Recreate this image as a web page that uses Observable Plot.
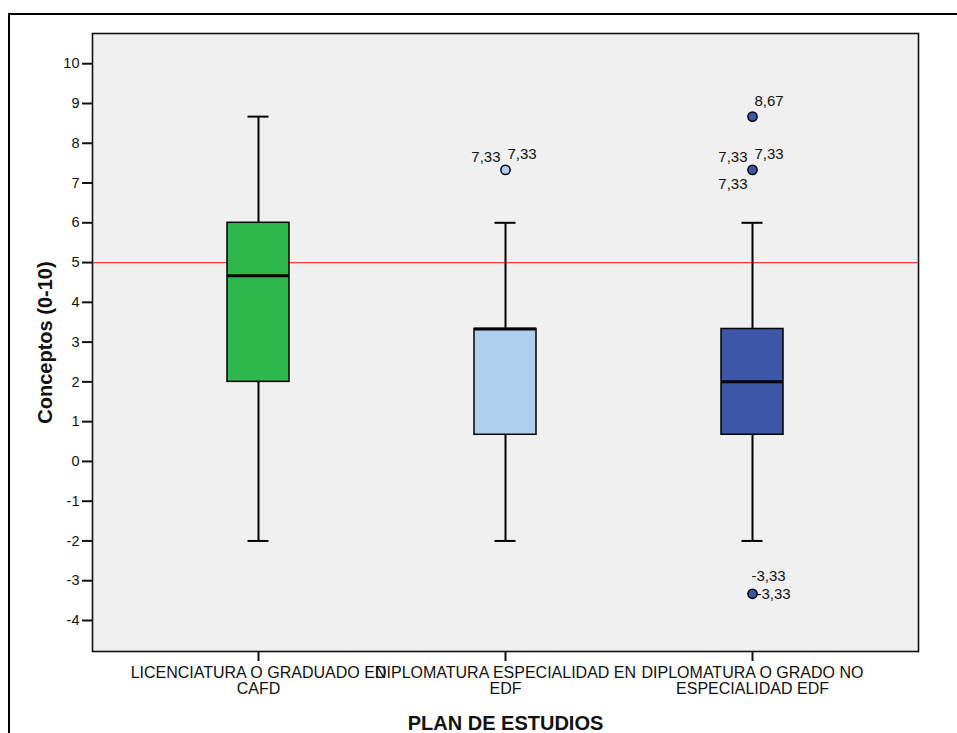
<!DOCTYPE html>
<html>
<head>
<meta charset="utf-8">
<script src="https://cdn.jsdelivr.net/npm/d3@7"></script>
<script src="https://cdn.jsdelivr.net/npm/@observablehq/plot@0.6"></script>
<style>
  html, body { margin: 0; padding: 0; background: #fff; }
  #wrap { position: relative; width: 957px; height: 733px; overflow: hidden; }
  #outer { position: absolute; left: 8px; top: 13px; width: 1000px; height: 800px;
           border-left: 2px solid #000; border-top: 2px solid #000; pointer-events: none; }
  #chart { position: absolute; left: 0; top: 0; }
</style>
</head>
<body>
<div id="wrap"><div id="chart"></div><div id="outer"></div></div>
<script>
// ---- data ----
const categories = ["LICENCIATURA O GRADUADO EN CAFD", "DIPLOMATURA ESPECIALIDAD EN EDF", "DIPLOMATURA O GRADO NO ESPECIALIDAD EDF"];
const tickLabels = ["LICENCIATURA O GRADUADO EN\nCAFD", "DIPLOMATURA ESPECIALIDAD EN\nEDF", "DIPLOMATURA O GRADO NO\nESPECIALIDAD EDF"];
const whiskerLow = [-2, -2, -2];
const q1 = [2, 0.67, 0.67];
const median = [4.67, 3.33, 2];
const q3 = [6, 3.33, 3.33];
const whiskerHigh = [8.67, 6, 6];
const boxColors = ["#2eb84b", "#aed0ee", "#3c56a8"];
const yTicks = [-4, -3, -2, -1, 0, 1, 2, 3, 4, 5, 6, 7, 8, 9, 10];
const referenceLine = [5];

const outlierGroup = [1, 2, 2, 2];
const outlierValue = [7.33, 8.67, 7.33, -3.33];

const labelGroup = [1, 1, 2, 2, 2, 2, 2, 2];
const labelValue = [7.33, 7.33, 8.67, 7.33, 7.33, 7.33, -3.33, -3.33];
const labelText = ["7,33", "7,33", "8,67", "7,33", "7,33", "7,33", "-3,33", "-3,33"];
const labelSide = ["leftTop", "rightTop", "rightTop", "leftTop", "rightTop", "leftBottom", "top", "right"];

// ---- build tables ----
const boxes = categories.map((c, i) => ({
  cat: c, lo: whiskerLow[i], q1: q1[i], med: median[i], q3: q3[i], hi: whiskerHigh[i], color: boxColors[i]
}));
const outliers = outlierGroup.map((g, i) => ({cat: categories[g], value: outlierValue[i], color: boxColors[g]}));
const sideOffsets = {
  leftTop:    {dx: -5, dy: -12.5, anchor: "end"},
  rightTop:   {dx: 2,  dy: -15.5, anchor: "start"},
  leftBottom: {dx: -5, dy: 14,    anchor: "end"},
  top:        {dx: -1, dy: -18,   anchor: "start"},
  right:      {dx: 4,  dy: 0.5,   anchor: "start"}
};
const labels = labelGroup.map((g, i) => ({cat: categories[g], value: labelValue[i], text: labelText[i], side: labelSide[i]}));
const labelMarks = Object.entries(sideOffsets).map(([side, o]) =>
  Plot.text(labels.filter(d => d.side === side), {
    x: "cat", y: "value", text: "text", dx: o.dx, dy: o.dy, textAnchor: o.anchor,
    fontSize: 15, fill: "#111"
  })
);
const fmt = new Map(categories.map((c, i) => [c, tickLabels[i]]));

const chart = Plot.plot({
  width: 957,
  height: 733,
  marginLeft: 92,
  marginRight: 39,
  marginTop: 33,
  marginBottom: 82,
  style: {fontFamily: "'Liberation Sans', Arial, sans-serif", fontSize: "14.5px", background: "transparent", color: "#111"},
  x: {type: "band", domain: categories, paddingInner: 0.75, paddingOuter: 0.544, align: 0.5},
  y: {domain: [-4.78, 10.76]},
  marks: [
    Plot.frame({fill: "#f0f0f0", stroke: "none"}),
    Plot.ruleY(referenceLine, {stroke: "#ff3535", strokeWidth: 1.2}),
    Plot.ruleX(boxes, {x: "cat", y1: "lo", y2: "hi", stroke: "#000", strokeWidth: 2}),
    Plot.tickY(boxes, {x: "cat", y: "lo", stroke: "#000", strokeWidth: 2, insetLeft: 20.5, insetRight: 20.5}),
    Plot.tickY(boxes, {x: "cat", y: "hi", stroke: "#000", strokeWidth: 2, insetLeft: 20.5, insetRight: 20.5}),
    Plot.barY(boxes, {x: "cat", y1: "q1", y2: "q3", fill: "color", stroke: "#000", strokeWidth: 1.5}),
    Plot.tickY(boxes, {x: "cat", y: "med", stroke: "#000", strokeWidth: 3}),
    Plot.dot(outliers, {x: "cat", y: "value", r: 4.6, fill: "color", stroke: "#000", strokeWidth: 1.5}),
    ...labelMarks,
    Plot.axisY({ticks: yTicks, tickSize: 10, tickPadding: 3, strokeWidth: 2, fontSize: 14.5,
      tickFormat: d => String(d),
      label: "Conceptos (0-10)", labelAnchor: "center", labelArrow: "none", labelOffset: 55}),
    Plot.axisX({tickSize: 10, tickPadding: 5, strokeWidth: 2, fontSize: 16, tickFormat: d => fmt.get(d),
      label: "PLAN DE ESTUDIOS", labelAnchor: "center", labelArrow: "none", labelOffset: 78}),
    Plot.frame({stroke: "#111", strokeWidth: 1.6, fill: "none"})
  ]
});
document.getElementById("chart").appendChild(chart);

// axis titles bold and larger
d3.select(chart).selectAll('g[aria-label="y-axis label"] text, g[aria-label="x-axis label"] text')
  .style("font-size", "20px").style("font-weight", "bold");
</script>
</body>
</html>
